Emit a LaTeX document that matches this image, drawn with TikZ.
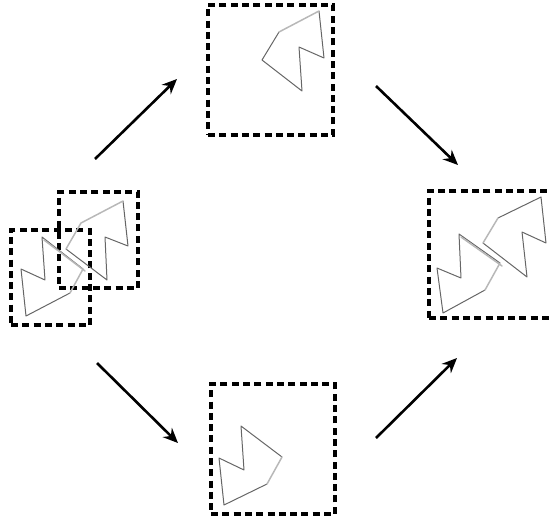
\documentclass[tikz,border=0pt]{standalone}
\usetikzlibrary{arrows.meta}
\begin{document}
\begin{tikzpicture}[x=1pt,y=-1pt,
  frame/.style={draw=black, line width=3.2pt, dash pattern=on 7pt off 4.3pt, inner sep=0pt, fill=none},
  piece/.style={draw=black!60, line width=1pt, line join=round},
  seam/.style={draw=black!28, line width=1.5pt, line cap=round},
  flow/.style={line width=2.6pt, -{Stealth[length=15pt,width=13pt,inset=5pt]}}]
\useasboundingbox (0,0) rectangle (551,520);
\clip (0,0) rectangle (551,520);

% frames
\node[frame, minimum width=125pt, minimum height=130pt] (ftop) at (270.5,70) {};
\node[frame, minimum width=124pt, minimum height=130pt] (fbot) at (273,449) {};
\node[frame, minimum width=131pt, minimum height=127pt] (fright) at (494.5,254.5) {};
\node[frame, minimum width=79pt, minimum height=96pt] (fleftA) at (98.5,240) {};
\node[frame, minimum width=79pt, minimum height=95pt] (fleftB) at (50.5,277.5) {};

% upper piece alone
\draw[piece] (319,11) -- (324,58) -- (299,47) -- (302,91) -- (262,60) -- (279,32);
\draw[seam] (279,32) -- (319,11);

% lower piece alone
\draw[piece] (267,484) -- (224,505) -- (219,458) -- (244,470) -- (241,426) -- (282,457);
\draw[seam] (282,457) -- (267,484);

% both pieces overlapping
\draw[piece] (123,201) -- (128,246) -- (105,237) -- (107,280) -- (66,249);
\draw[seam] (66,249) -- (81,223) -- (123,201);
\draw[piece] (70,293) -- (26,316) -- (21,269) -- (45,280) -- (42,237) -- (83,269);
\draw[seam] (83,269) -- (70,293);
\draw[seam] (44,240) -- (85,271);

% both pieces joined
\draw[piece] (498,218) -- (541,197) -- (546,243) -- (522,232) -- (527,277) -- (483,243);
\draw[seam] (483,243) -- (498,218);
\draw[piece] (485,290) -- (443,313) -- (437,268) -- (461,278) -- (459,234) -- (500,263);
\draw[seam] (500,263) -- (485,290);
\draw[seam] (461,237) -- (502,266);

% arrow end points
\coordinate (a1s) at (95,159);  \coordinate (a1e) at (177,79);
\coordinate (a2s) at (376,86);  \coordinate (a2e) at (458,165);
\coordinate (a3s) at (97,363);  \coordinate (a3e) at (178,443);
\coordinate (a4s) at (376,438); \coordinate (a4e) at (457,358);

\draw[flow] (a1s) -- (a1e);
\draw[flow] (a2s) -- (a2e);
\draw[flow] (a3s) -- (a3e);
\draw[flow] (a4s) -- (a4e);
\end{tikzpicture}
\end{document}
